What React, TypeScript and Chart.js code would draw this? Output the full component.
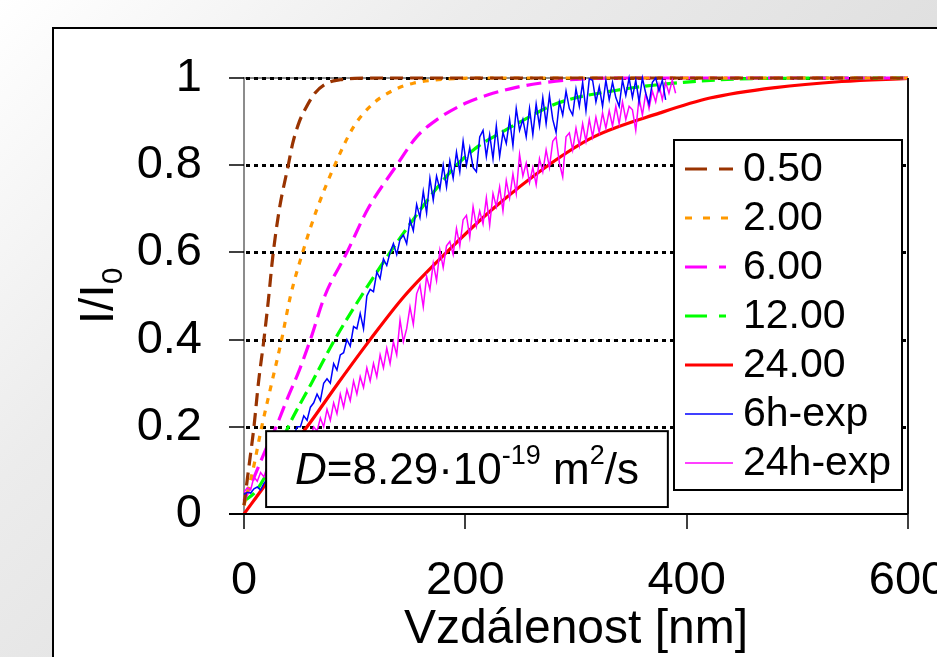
import React, { useEffect, useRef } from "react";
import { Chart, registerables } from "chart.js";

Chart.register(...registerables);

const FONT = '"Liberation Sans", Arial, Helvetica, sans-serif';

// ---- axis ticks ----
const xTicks = [0, 200, 400, 600];
const yTicks = [0, 0.2, 0.4, 0.6, 0.8, 1];

// ---- labels ----
const seriesLabels = ["0.50", "2.00", "6.00", "12.00", "24.00", "6h-exp", "24h-exp"];
const xTitle = "Vzdálenost [nm]";

// ---- model curves ----
const brownX = [0, 4, 9, 13, 18, 22, 26, 32, 40, 44, 50, 55, 64, 75, 87, 100, 130, 600];
const brownY = [0.02, 0.1, 0.2, 0.3, 0.4, 0.49, 0.59, 0.7, 0.8, 0.85, 0.9, 0.927, 0.965, 0.988, 0.996, 0.999, 1, 1];

const orangeX = [0, 8, 16, 25, 34, 42, 53, 66, 82, 99, 117, 135, 153, 180, 220, 600];
const orangeY = [0.02, 0.1, 0.2, 0.3, 0.4, 0.5, 0.6, 0.7, 0.8, 0.888, 0.942, 0.972, 0.988, 0.997, 1, 1];

const magX = [0, 5, 10, 20, 29, 40, 50, 60, 73, 93, 112, 138, 156, 174, 200, 220, 245, 267, 300, 350, 600];
const magY = [0.03, 0.06, 0.09, 0.15, 0.2, 0.27, 0.33, 0.4, 0.5, 0.6, 0.7, 0.8, 0.865, 0.904, 0.942, 0.961, 0.978, 0.988, 0.997, 1, 1];

const greenX = [0, 10, 20, 30, 40, 61, 82, 106, 132, 160, 175, 192, 213, 229, 250, 283, 337, 397, 466, 600];
const greenY = [0.03, 0.05, 0.09, 0.14, 0.2, 0.3, 0.4, 0.5, 0.6, 0.7, 0.75, 0.8, 0.846, 0.87, 0.9, 0.942, 0.972, 0.99, 0.999, 1];

const redX = [0, 20, 40, 57, 85, 114, 145, 183, 225, 275, 316, 376, 421, 480, 540, 600];
const redY = [0, 0.07, 0.145, 0.2, 0.3, 0.4, 0.5, 0.6, 0.7, 0.8, 0.865, 0.92, 0.954, 0.978, 0.992, 0.999];

// ---- experimental profiles (sampled every 3 nm from 0) ----
const expStep = 3;
const exp6Y = [
  0.045, 0.05, 0.048, 0.058, 0.062, 0.055, 0.07, 0.08, 0.09, 0.1, 0.115, 0.13, 0.14, 0.155, 0.17, 0.18,
  0.2, 0.2, 0.225, 0.215, 0.245, 0.255, 0.275, 0.26, 0.3, 0.31, 0.3, 0.345, 0.33, 0.365, 0.37, 0.4,
  0.385, 0.43, 0.425, 0.46, 0.425, 0.5, 0.515, 0.51, 0.555, 0.54, 0.585, 0.57, 0.6, 0.62, 0.595, 0.63,
  0.64, 0.62, 0.675, 0.65, 0.71, 0.68, 0.74, 0.69, 0.77, 0.72, 0.775, 0.745, 0.8, 0.75, 0.81, 0.77,
  0.83, 0.785, 0.855, 0.8, 0.84, 0.795, 0.785, 0.865, 0.88, 0.82, 0.87, 0.815, 0.89, 0.82, 0.875, 0.85,
  0.905, 0.845, 0.93, 0.88, 0.905, 0.865, 0.93, 0.87, 0.94, 0.89, 0.955, 0.895, 0.96, 0.905, 0.875, 0.945,
  0.915, 0.97, 0.93, 0.915, 0.975, 0.935, 0.99, 0.925, 0.998, 0.995, 0.945, 0.98, 0.935, 0.995, 0.95, 0.99,
  0.955, 0.935, 0.995, 0.96, 1.0, 0.955, 0.995, 0.945, 1.0, 0.965, 0.94, 0.99, 1.0, 0.97, 0.995, 0.95,
];
const exp24Y = [
  0.05, 0.06, 0.055, 0.085, 0.075, 0.095, 0.085, 0.11, 0.1, 0.125, 0.115, 0.135, 0.125, 0.15, 0.14, 0.16,
  0.15, 0.17, 0.165, 0.185, 0.175, 0.2, 0.19, 0.22, 0.2, 0.24, 0.215, 0.255, 0.23, 0.275, 0.245, 0.285,
  0.26, 0.305, 0.275, 0.315, 0.29, 0.335, 0.305, 0.345, 0.315, 0.365, 0.335, 0.38, 0.345, 0.395, 0.365, 0.445,
  0.395, 0.425, 0.475, 0.435, 0.505, 0.525, 0.475, 0.545, 0.515, 0.575, 0.535, 0.605, 0.565, 0.615, 0.625, 0.595,
  0.655, 0.615, 0.675, 0.685, 0.635, 0.705, 0.66, 0.695, 0.665, 0.725, 0.662, 0.735, 0.705, 0.75, 0.695, 0.765,
  0.725, 0.78, 0.735, 0.825, 0.775, 0.805, 0.76, 0.795, 0.755, 0.815, 0.785, 0.835, 0.795, 0.855, 0.865, 0.805,
  0.773, 0.865, 0.874, 0.835, 0.885, 0.845, 0.895, 0.855, 0.905, 0.865, 0.91, 0.875, 0.92, 0.885, 0.925, 0.89,
  0.935, 0.895, 0.945, 0.905, 0.935, 0.927, 0.88, 0.955, 0.915, 0.965, 0.93, 0.97, 0.945, 0.985, 0.95, 0.99,
  0.965, 0.995, 0.965,
];

const pts = (xs: number[], ys: number[]) => xs.map((x, i) => ({ x, y: ys[i] }));
const stepPts = (ys: number[]) => ys.map((y, i) => ({ x: i * expStep, y }));

// legend sample dash patterns
const legendDash: number[][] = [[22, 12], [7, 11], [22, 12, 7, 12], [22, 12, 7, 12], [], [], []];

function drawRich(
  ctx: CanvasRenderingContext2D,
  parts: { t: string; size: number; italic?: boolean; rise?: number }[],
  cx: number,
  baseY: number
) {
  const widths = parts.map((p) => {
    ctx.font = `${p.italic ? "italic " : ""}${p.size}px ${FONT}`;
    return ctx.measureText(p.t).width;
  });
  const total = widths.reduce((a, b) => a + b, 0);
  let x = cx - total / 2;
  parts.forEach((p, i) => {
    ctx.font = `${p.italic ? "italic " : ""}${p.size}px ${FONT}`;
    ctx.fillText(p.t, x, baseY - (p.rise || 0));
    x += widths[i];
  });
}

const decor = {
  id: "decor",
  beforeDatasetsDraw(chart: any) {
    const { ctx, chartArea: ca, scales } = chart;
    const y = scales.y;
    ctx.save();
    // plot-area gray frame (left, top)
    ctx.strokeStyle = "#8c8c8c";
    ctx.lineWidth = 2;
    ctx.beginPath();
    ctx.moveTo(ca.left, ca.bottom);
    ctx.lineTo(ca.left, ca.top);
    ctx.lineTo(ca.right, ca.top);
    ctx.stroke();
    // dotted grid lines
    ctx.strokeStyle = "#000";
    ctx.lineWidth = 3;
    ctx.setLineDash([4, 4]);
    yTicks.forEach((v) => {
      if (v === 0) return;
      const py = Math.round(y.getPixelForValue(v)) + 0.5;
      ctx.beginPath();
      ctx.moveTo(ca.left + 2, py);
      ctx.lineTo(ca.right, py);
      ctx.stroke();
    });
    ctx.restore();
  },
  afterDatasetsDraw(chart: any) {
    const { ctx, chartArea: ca, scales } = chart;
    const x = scales.x;
    const y = scales.y;
    ctx.save();
    ctx.setLineDash([]);
    // right border
    ctx.strokeStyle = "#111";
    ctx.lineWidth = 2;
    ctx.beginPath();
    ctx.moveTo(ca.right, ca.top);
    ctx.lineTo(ca.right, ca.bottom);
    ctx.stroke();
    // bottom axis + ticks
    ctx.strokeStyle = "#000";
    ctx.lineWidth = 2;
    ctx.beginPath();
    ctx.moveTo(ca.left - 15, ca.bottom);
    ctx.lineTo(ca.right, ca.bottom);
    ctx.stroke();
    ctx.lineWidth = 1.5;
    xTicks.forEach((v) => {
      const px = Math.round(x.getPixelForValue(v));
      ctx.beginPath();
      ctx.moveTo(px, ca.bottom);
      ctx.lineTo(px, ca.bottom + 15);
      ctx.stroke();
    });
    yTicks.forEach((v) => {
      const py = Math.round(y.getPixelForValue(v));
      ctx.beginPath();
      ctx.moveTo(ca.left - 15, py);
      ctx.lineTo(ca.left, py);
      ctx.stroke();
    });

    // D box
    const bx = x.getPixelForValue(20);
    const bRight = x.getPixelForValue(383);
    const bTop = y.getPixelForValue(0.19);
    const bBot = y.getPixelForValue(0.016);
    ctx.fillStyle = "#fff";
    ctx.fillRect(bx, bTop, bRight - bx, bBot - bTop);
    ctx.strokeStyle = "#000";
    ctx.lineWidth = 2;
    ctx.strokeRect(bx, bTop, bRight - bx, bBot - bTop);
    ctx.fillStyle = "#000";
    ctx.textBaseline = "alphabetic";
    ctx.textAlign = "left";
    drawRich(
      ctx,
      [
        { t: "D", size: 44, italic: true },
        { t: "=8.29·10", size: 44 },
        { t: "-19", size: 27, rise: 20 },
        { t: " m", size: 44 },
        { t: "2", size: 27, rise: 20 },
        { t: "/s", size: 44 },
      ],
      (bx + bRight) / 2,
      (bTop + bBot) / 2 + 15
    );

    // legend box
    const lx = 674, ly = 140, lw = 228, lh = 350;
    ctx.fillStyle = "#fff";
    ctx.fillRect(lx, ly, lw, lh);
    ctx.strokeStyle = "#000";
    ctx.lineWidth = 2;
    ctx.strokeRect(lx, ly, lw, lh);
    chart.data.datasets.forEach((ds: any, i: number) => {
      const cy = 169 + i * 49;
      ctx.strokeStyle = ds.borderColor;
      ctx.lineWidth = ds.borderWidth;
      ctx.setLineDash(legendDash[i]);
      ctx.beginPath();
      ctx.moveTo(685, cy);
      ctx.lineTo(733, cy);
      ctx.stroke();
      ctx.setLineDash([]);
      ctx.fillStyle = "#000";
      ctx.font = `41px ${FONT}`;
      ctx.textBaseline = "middle";
      ctx.textAlign = "left";
      ctx.fillText(ds.label, 743, cy + 1);
    });

    // axis titles
    ctx.fillStyle = "#000";
    ctx.textBaseline = "alphabetic";
    drawRich(ctx, [{ t: xTitle, size: 48 }], (ca.left + ca.right) / 2, 643);

    ctx.save();
    ctx.translate(113, 296);
    ctx.rotate(-Math.PI / 2);
    drawRich(
      ctx,
      [
        { t: "I/I", size: 48 },
        { t: "0", size: 30, rise: -9 },
      ],
      0,
      0
    );
    ctx.restore();
    ctx.restore();
  },
};

export default function App() {
  const ref = useRef<HTMLCanvasElement>(null);
  useEffect(() => {
    const base = { pointRadius: 0, showLine: true, fill: false, clip: false as any };
    const chart = new Chart(ref.current as HTMLCanvasElement, {
      type: "scatter",
      data: {
        datasets: [
          { ...base, label: seriesLabels[0], data: pts(brownX, brownY), borderColor: "#993300", borderWidth: 3.2, borderDash: [13, 7], cubicInterpolationMode: "monotone", order: 1 },
          { ...base, label: seriesLabels[1], data: pts(orangeX, orangeY), borderColor: "#FF9900", borderWidth: 3.2, borderDash: [6, 7], cubicInterpolationMode: "monotone", order: 1 },
          { ...base, label: seriesLabels[2], data: pts(magX, magY), borderColor: "#FF00FF", borderWidth: 3.2, borderDash: [15, 7], cubicInterpolationMode: "monotone", order: 1 },
          { ...base, label: seriesLabels[3], data: pts(greenX, greenY), borderColor: "#00FF00", borderWidth: 3.2, borderDash: [13, 6], cubicInterpolationMode: "monotone", order: 1 },
          { ...base, label: seriesLabels[4], data: pts(redX, redY), borderColor: "#FF0000", borderWidth: 3.2, cubicInterpolationMode: "monotone", order: 1 },
          { ...base, label: seriesLabels[5], data: stepPts(exp6Y), borderColor: "#0000FF", borderWidth: 1.5, order: 0 },
          { ...base, label: seriesLabels[6], data: stepPts(exp24Y), borderColor: "#FF00FF", borderWidth: 1.5, order: 0 },
        ] as any,
      },
      options: {
        animation: false,
        responsive: false,
        devicePixelRatio: 1,
        events: [],
        layout: { padding: { left: 0, right: 92, top: 78, bottom: 0 } },
        plugins: { legend: { display: false }, tooltip: { enabled: false } },
        scales: {
          x: {
            type: "linear",
            min: 0,
            max: 600,
            grid: { display: false, drawTicks: false, tickLength: 0 },
            border: { display: false },
            afterBuildTicks: (s: any) => {
              s.ticks = xTicks.map((v) => ({ value: v }));
            },
            afterFit: (s: any) => {
              s.height = 206;
            },
            ticks: {
              font: { family: FONT, size: 47 },
              color: "#000",
              padding: 39,
              maxRotation: 0,
              autoSkip: false,
              callback: (v: any) => String(v),
            },
          },
          y: {
            type: "linear",
            min: 0,
            max: 1,
            grid: { display: false, drawTicks: false, tickLength: 0 },
            border: { display: false },
            afterBuildTicks: (s: any) => {
              s.ticks = yTicks.map((v) => ({ value: v }));
            },
            afterFit: (s: any) => {
              s.width = 244;
            },
            ticks: {
              font: { family: FONT, size: 47 },
              color: "#000",
              padding: 42,
              autoSkip: false,
              callback: (v: any) => String(v),
            },
          },
        },
      },
      plugins: [decor],
    } as any);
    return () => chart.destroy();
  }, []);

  return (
    <div
      style={{
        position: "fixed",
        left: 0,
        top: 0,
        width: 937,
        height: 657,
        overflow: "hidden",
        background: "linear-gradient(135deg, #ffffff 0%, #ececec 30%, #d0d0d0 100%)",
      }}
    >
      <div
        style={{
          position: "absolute",
          left: 52,
          top: 27,
          width: 1000,
          height: 800,
          background: "#fff",
          border: "2px solid #000",
        }}
      />
      <canvas
        ref={ref}
        width={1000}
        height={720}
        style={{ position: "absolute", left: 0, top: 0, width: 1000, height: 720 }}
      />
    </div>
  );
}
